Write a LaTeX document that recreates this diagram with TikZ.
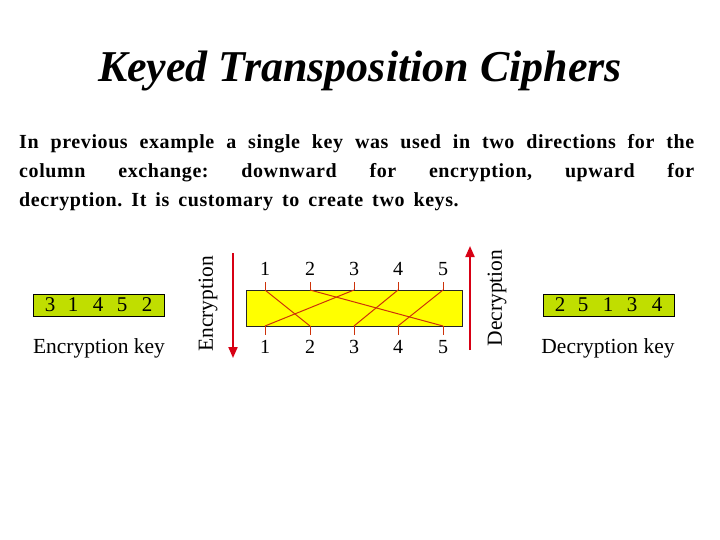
\documentclass[tikz,border=0pt]{standalone}
\usepackage{fontspec}
\setmainfont{Liberation Serif}
\newfontfamily\bodyfont[LetterSpace=3]{Liberation Serif}
\usetikzlibrary{arrows.meta}
\definecolor{keygreen}{RGB}{192,222,0}
\definecolor{boxyellow}{RGB}{255,255,0}
\definecolor{crossred}{RGB}{205,50,10}
\definecolor{arrowred}{RGB}{215,0,20}
\begin{document}
\begin{tikzpicture}[x=1pt,y=-1pt,
  num/.style={font=\fontsize{20}{24}\selectfont, inner sep=0pt},
  keydigit/.style={font=\fontsize{21}{24}\selectfont, inner sep=0pt},
  keybox/.style={draw=black, line width=0.9pt, fill=keygreen, minimum width=131pt, minimum height=22pt, inner sep=0pt},
  keylabel/.style={font=\fontsize{21.5}{24}\selectfont, inner sep=0pt},
  sidelabel/.style={font=\fontsize{21.5}{24}\selectfont, inner sep=0pt, rotate=90},
  tick/.style={draw=crossred, line width=1pt},
  cross/.style={draw=crossred, line width=1pt},
  dirarrow/.style={draw=arrowred, line width=2pt, -{Triangle[length=11pt,width=9pt]}}
]
\useasboundingbox (0,0) rectangle (720,540);
% title
\node[font=\fontsize{44}{50}\selectfont\bfseries\itshape, anchor=base, inner sep=0pt] (title) at (360,82) {Keyed Transposition Ciphers};
% paragraph
\node[anchor=north west, text width=675pt, align=justify, inner sep=0pt,
      font=\bodyfont\fontsize{20}{29}\selectfont\bfseries\frenchspacing] (para) at (19,134)
  {\spaceskip=9pt plus 8pt minus 3pt
   In previous example a single key was used in two directions for the\linebreak
   column exchange: downward for encryption, upward for\linebreak
   decryption. It is customary to create two keys.};
% central bar
\node[draw=black!85, line width=0.9pt, fill=boxyellow, minimum width=216pt, minimum height=36pt, inner sep=0pt, anchor=north west] (bar) at (246,290) {};
% top / bottom numbers, ticks
\foreach \i/\x in {1/265,2/310,3/354,4/398,5/443}{
  \node[num] (t\i) at (\x,269) {\i};
  \node[num] (b\i) at (\x,347) {\i};
  \coordinate (tt\i) at (\x,282);
  \coordinate (tb\i) at (\x,290);
  \coordinate (bt\i) at (\x,326);
  \coordinate (bb\i) at (\x,335);
  \draw[tick] (tt\i) -- (tb\i);
  \draw[tick] (bt\i) -- (bb\i);
}
% crossing lines
\foreach \a/\b in {1/2,2/5,3/1,4/3,5/4}{
  \draw[cross] (tb\a) -- (bt\b);
}
% arrows
\coordinate (encA) at (233,253);
\coordinate (encB) at (233,358);
\draw[dirarrow] (encA) -- (encB);
\coordinate (decA) at (470,350);
\coordinate (decB) at (470,246);
\draw[dirarrow] (decA) -- (decB);
\node[sidelabel] (enclab) at (208,304) {Encryption};
\node[sidelabel] (declab) at (497,298) {Decryption};
% encryption key
\node[keybox] (ekey) at (98.5,305) {};
\foreach \d/\x [count=\k] in {3/50,1/73,4/98,5/122,2/147}{
  \node[keydigit] (ed\k) at (\x,305) {\d};
}
\node[keylabel] (eklab) at (99,348) {Encryption key};
% decryption key
\node[keybox] (dkey) at (608.5,305) {};
\foreach \d/\x [count=\k] in {2/560,5/583,1/608,3/632,4/657}{
  \node[keydigit] (dd\k) at (\x,305) {\d};
}
\node[keylabel] (dklab) at (608,348) {Decryption key};
\end{tikzpicture}
\end{document}
